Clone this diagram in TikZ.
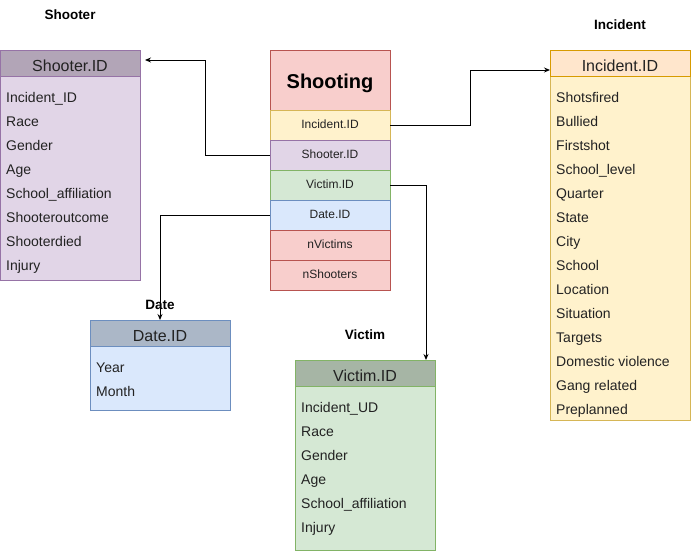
\documentclass[tikz,border=0pt]{standalone}
\usepackage{fontspec}
\setmainfont{Liberation Sans}
\usetikzlibrary{calc,arrows.meta}
\definecolor{purF}{HTML}{E1D5E7}
\definecolor{purD}{HTML}{9673A6}
\definecolor{purH}{HTML}{B2A5B7}
\definecolor{yelF}{HTML}{FFF2CC}
\definecolor{yelD}{HTML}{D6B656}
\definecolor{incH}{HTML}{FFE6CC}
\definecolor{incD}{HTML}{D79B00}
\definecolor{redF}{HTML}{F8CECC}
\definecolor{redD}{HTML}{B85450}
\definecolor{grnF}{HTML}{D5E8D4}
\definecolor{grnD}{HTML}{82B366}
\definecolor{grnH}{HTML}{A6B5A5}
\definecolor{bluF}{HTML}{DAE8FC}
\definecolor{bluD}{HTML}{6C8EBF}
\definecolor{bluH}{HTML}{ABB7C7}
\definecolor{txt}{HTML}{222222}
\tikzset{
  tbox/.style={draw=#1, line width=0.9pt, rectangle, anchor=north west, inner sep=0pt, outer sep=0pt},
  hdr/.style={tbox=#1, minimum width=140pt, minimum height=26pt, text height=17pt, text depth=0.5pt, font=\fontsize{16}{18}\selectfont, text=txt},
  rowtxt/.style={anchor=west, inner sep=0pt, text height=10.5pt, text depth=3.5pt, font=\fontsize{14}{16}\selectfont, text=txt},
  keyrow/.style={tbox=#1, minimum width=120pt, minimum height=30pt, text height=9pt, text depth=2.5pt, font=\fontsize{12}{14}\selectfont, text=txt},
  lbl/.style={font=\bfseries\fontsize{13.5}{16}\selectfont, inner sep=1pt},
  arr/.style={draw=black, line width=0.9pt, -{Stealth[length=6pt,width=5pt]}}
}
\begin{document}
\begin{tikzpicture}[x=1pt,y=-1pt]
\useasboundingbox (0,0) rectangle (691,554);
\fill[white] (0,0) rectangle (691,554);

% ---------- Shooter table ----------
\node[tbox=purD, fill=purF, minimum width=140pt, minimum height=230pt] (shooter) at (0,50) {};
\node[hdr=purD, fill=purH] (shooterH) at (0,50) {Shooter.ID};
\foreach \t [count=\i] in {Incident\_ID,Race,Gender,Age,School\_affiliation,Shooteroutcome,Shooterdied,Injury}
  \node[rowtxt] (sh\i) at (6,{98.5+(\i-1)*24}) {\t};

% ---------- Shooting table ----------
\node[tbox=redD, fill=redF, minimum width=120pt, minimum height=60pt] (shooting) at (270,50) {};
\node[font=\bfseries\fontsize{20}{24}\selectfont, inner sep=0pt, text height=14.5pt, text depth=0pt] (shootingT) at (330,81) {Shooting};
\node[keyrow=yelD, fill=yelF] (kInc) at (270,110) {Incident.ID};
\node[keyrow=purD, fill=purF] (kSho) at (270,140) {Shooter.ID};
\node[keyrow=grnD, fill=grnF] (kVic) at (270,170) {Victim.ID};
\node[keyrow=bluD, fill=bluF] (kDat) at (270,200) {Date.ID};
\node[keyrow=redD, fill=redF] (kNv) at (270,230) {nVictims};
\node[keyrow=redD, fill=redF] (kNs) at (270,260) {nShooters};

% ---------- Incident table ----------
\node[tbox=yelD, fill=yelF, minimum width=140pt, minimum height=370pt] (incident) at (550,50) {};
\node[hdr=incD, fill=incH] (incidentH) at (550,50) {Incident.ID};
\foreach \t [count=\i] in {Shotsfired,Bullied,Firstshot,School\_level,Quarter,State,City,School,Location,Situation,Targets,Domestic violence,Gang related,Preplanned}
  \node[rowtxt] (in\i) at (556,{98.5+(\i-1)*24}) {\t};

% ---------- Date table ----------
\node[tbox=bluD, fill=bluF, minimum width=140pt, minimum height=90pt] (date) at (90,320) {};
\node[hdr=bluD, fill=bluH] (dateH) at (90,320) {Date.ID};
\node[rowtxt] (da1) at (96,368.5) {Year};
\node[rowtxt] (da2) at (96,392.5) {Month};

% ---------- Victim table ----------
\node[tbox=grnD, fill=grnF, minimum width=140pt, minimum height=190pt] (victim) at (295,360) {};
\node[hdr=grnD, fill=grnH] (victimH) at (295,360) {Victim.ID};
\foreach \t [count=\i] in {Incident\_UD,Race,Gender,Age,School\_affiliation,Injury}
  \node[rowtxt] (vi\i) at (301,{408.5+(\i-1)*24}) {\t};

% ---------- connectors ----------
\coordinate (shArr) at ($(shooterH.north east)+(5,10)$);
\draw[arr] (kSho.west) -- ++(-65,0) |- (shArr);
\coordinate (inArr) at ($(incidentH.north west)+(0,20)$);
\draw[arr] (kInc.east) -- ++(80,0) |- (inArr);
\coordinate (viArr) at ($(victimH.north west)+(131,0)$);
\draw[arr] (kVic.east) -| (viArr);
\draw[arr] (kDat.west) -| (dateH.north);

% ---------- labels ----------
\node[lbl] (lShooter) at (70,15) {Shooter};
\node[lbl] (lIncident) at (620,25) {Incident};
\node[lbl] (lDate) at (160,305) {Date};
\node[lbl] (lVictim) at (365,335) {Victim};
\end{tikzpicture}
\end{document}
